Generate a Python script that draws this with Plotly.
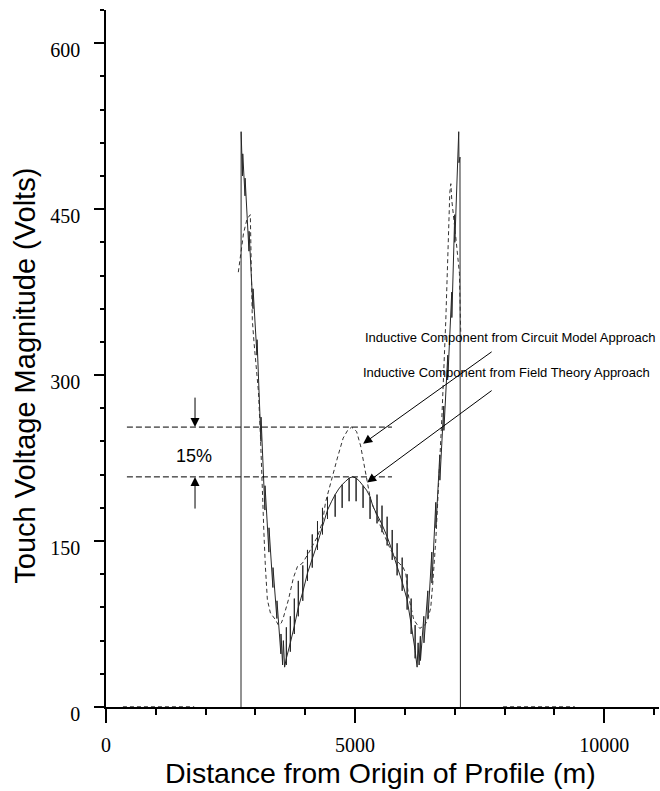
import plotly.graph_objects as go

# ---------------- data ----------------
# Inductive component, field theory approach (solid, jagged curve with spikes)
field_x = [2710, 2712, 2740, 2745, 2790, 2792, 2870, 2872, 2950, 2952, 3030, 3032,
           3110, 3112, 3190, 3192, 3270, 3272, 3350, 3352, 3430, 3432, 3510, 3512,
           3545, 3560, 3585,
           3620, 3620, 3620, 3620, 3700, 3700, 3700, 3700, 3780, 3780, 3780, 3780,
           3860, 3860, 3860, 3860, 3950, 3950, 3950, 3950, 4044, 4044, 4044, 4044,
           4140, 4140, 4140, 4140, 4245, 4245, 4245, 4245, 4345, 4345, 4345, 4345,
           4446, 4446, 4446, 4446, 4530,
           4600, 4600, 4600, 4670, 4740, 4740, 4740, 4810, 4880, 4880, 4880, 4950,
           5020, 5020, 5020, 5090, 5160, 5160, 5160, 5230, 5300, 5300, 5300, 5361,
           5440, 5440, 5440, 5440, 5540, 5540, 5540, 5540, 5643, 5643, 5643, 5643,
           5745, 5745, 5745, 5745, 5843, 5843, 5843, 5843, 5945, 5945, 5945, 5945,
           6044, 6044, 6044, 6044, 6125, 6125, 6125, 6125, 6205, 6205, 6205, 6205,
           6245, 6265, 6285,
           6310, 6312, 6380, 6382, 6460, 6462, 6540, 6542, 6620, 6622, 6700, 6702,
           6780, 6782, 6860, 6862, 6940, 6942, 7000, 7002, 7040, 7042, 7080, 7085,
           7105, 7114]
field_y = [0, 520, 480, 500, 462, 478, 412, 430, 360, 378, 318, 332,
           240, 262, 178, 200, 140, 162, 108, 126, 80, 96, 48, 66,
           38, 60, 36,
           44, 72, 38, 44, 58, 82, 50, 58, 73, 98, 66, 73,
           90, 114, 82, 90, 104, 128, 96, 104, 121, 142, 114, 121,
           134, 156, 126, 134, 148, 168, 142, 148, 163, 180, 156, 163,
           178, 190, 170, 178, 186,
           192, 172, 192, 197, 201, 180, 201, 204, 207, 186, 207, 208,
           207, 186, 207, 204, 200, 180, 200, 196, 190, 170, 190, 181,
           174, 192, 166, 174, 165, 182, 158, 165, 154, 172, 146, 154,
           141, 160, 133, 141, 127, 148, 119, 127, 113, 135, 105, 113,
           97, 120, 88, 97, 75, 98, 66, 75, 51, 74, 44, 51,
           36, 58, 38,
           64, 42, 82, 58, 105, 80, 140, 112, 185, 162, 228, 205,
           272, 250, 318, 298, 375, 352, 445, 420, 475, 462, 520, 492,
           497, 0]

# Inductive component, circuit model approach (dashed curve)
circuit_x = [2656, 2700, 2760, 2830, 2897, 2915, 2937, 2970, 3020, 3060, 3100, 3139,
             3170, 3199, 3239, 3300, 3400, 3461, 3520, 3561, 3662, 3763, 3843, 3944,
             4064, 4245, 4350, 4406, 4520, 4650, 4760, 4849, 4930, 5030, 5111, 5211,
             5252, 5312, 5420, 5513, 5714, 5880, 5956, 6016, 6077, 6177, 6298, 6400,
             6459, 6519, 6559, 6620, 6660, 6740, 6821, 6861, 6901, 6922, 6941, 7020,
             7094, 7114, 7125]
circuit_y = [393, 410, 428, 441, 445, 400, 350, 330, 305, 285, 245, 190,
             157, 127, 97, 85, 79, 74, 76, 81, 97, 117, 127, 130,
             139, 154, 168, 185, 205, 226, 243, 250, 253, 249, 236, 212,
             199, 187, 175, 163, 142, 130, 127, 121, 99, 79, 71, 74,
             79, 90, 112, 151, 187, 260, 350, 410, 465, 473, 458, 425,
             392, 350, 330]

# dashed circuit-model segments lying on zero outside the section
zero_x = [340, 1770, None, 7970, 9410]
zero_y = [0, 0, None, 0, 0]

# 15 % reference levels (peaks of the two curves)
ref_levels = [253, 208]
ref_span = [420, 5740]

x_ticks = [0, 5000, 10000]
y_ticks = [0, 150, 300, 450, 600]

x_title = "Distance from Origin of Profile (m)"
y_title = "Touch Voltage Magnitude (Volts)"
label_circuit = "Inductive Component from Circuit Model Approach"
label_field = "Inductive Component from Field Theory Approach"
label_pct = "15%"

# ---------------- figure ----------------
fig = go.Figure()

fig.add_trace(go.Scatter(x=field_x, y=field_y, mode="lines",
                         line=dict(color="#262626", width=1), hoverinfo="skip",
                         showlegend=False))
fig.add_trace(go.Scatter(x=circuit_x, y=circuit_y, mode="lines",
                         line=dict(color="#333333", width=1, dash="4px,3px"),
                         hoverinfo="skip", showlegend=False))
fig.add_trace(go.Scatter(x=zero_x, y=zero_y, mode="lines",
                         line=dict(color="#333333", width=1.5, dash="4px,3px"),
                         hoverinfo="skip", showlegend=False))

ref_x, ref_y = [], []
for lvl in ref_levels:
    ref_x += [ref_span[0], ref_span[1], None]
    ref_y += [lvl, lvl, None]
fig.add_trace(go.Scatter(x=ref_x, y=ref_y, mode="lines",
                         line=dict(color="black", width=1, dash="6px,3px"),
                         hoverinfo="skip", showlegend=False))

sans = "Liberation Sans, Arial, sans-serif"
serif = "Liberation Serif, Times New Roman, serif"

arrow_style = dict(text="", showarrow=True, arrowhead=2, arrowsize=1.8, arrowwidth=1,
                   arrowcolor="black", standoff=0, xref="x", yref="y",
                   axref="x", ayref="y")

annotations = [
    dict(x=5160, y=334, xref="x", yref="y", text=label_circuit, showarrow=False,
         xanchor="left", yanchor="middle", font=dict(family=sans, size=13, color="black")),
    dict(x=5120, y=302, xref="x", yref="y", text=label_field, showarrow=False,
         xanchor="left", yanchor="middle", font=dict(family=sans, size=13, color="black")),
    dict(x=5161, y=238, ax=7771, ay=322, **arrow_style),
    dict(x=5241, y=203, ax=7771, ay=287, **arrow_style),
    dict(x=1767, y=227, xref="x", yref="y", text=label_pct, showarrow=False,
         font=dict(family=sans, size=18, color="black")),
    dict(x=1787, y=253, ax=1787, ay=281, **arrow_style),
    dict(x=1787, y=208, ax=1787, ay=178, **arrow_style),
    dict(x=0.4955, y=-0.095, xref="paper", yref="paper", text=x_title, showarrow=False,
         xanchor="center", yanchor="middle", font=dict(family=sans, size=28.5, color="black")),
    dict(x=-0.147, y=0.475, xref="paper", yref="paper", text=y_title, showarrow=False,
         textangle=-90, xanchor="center", yanchor="middle",
         font=dict(family=sans, size=29, color="black")),
]

fig.update_layout(
    width=660, height=791,
    margin=dict(l=106, r=1, t=10, b=84),
    paper_bgcolor="white", plot_bgcolor="white",
    annotations=annotations,
    showlegend=False,
)

fig.update_xaxes(
    range=[0, 11100], tickvals=x_ticks, ticktext=[str(v) for v in x_ticks],
    showgrid=False, zeroline=False, showline=True, linecolor="black", linewidth=1.5,
    ticks="outside", ticklen=14, tickwidth=1.5, tickcolor="black",
    tickfont=dict(family=serif, size=20, color="black"), ticklabelstandoff=5,
    minor=dict(dtick=1000, tick0=0, ticks="outside", ticklen=6, tickwidth=1.5,
               tickcolor="black", showgrid=False),
)
fig.update_yaxes(
    range=[0, 630], tickvals=y_ticks, ticktext=[str(v) for v in y_ticks],
    showgrid=False, zeroline=False, showline=True, linecolor="black", linewidth=1.5,
    ticks="outside", ticklen=10, tickwidth=1.5, tickcolor="black",
    tickfont=dict(family=serif, size=20, color="black"), ticklabelstandoff=10,
    ticklabelshift=7,
    minor=dict(dtick=30, tick0=0, ticks="outside", ticklen=4.5, tickwidth=1.5,
               tickcolor="black", showgrid=False),
)

fig.write_html("out.html")
